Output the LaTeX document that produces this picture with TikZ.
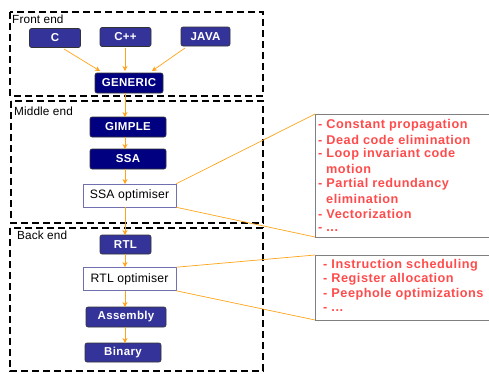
\documentclass[tikz,border=0pt]{standalone}
\usepackage{fontspec}
\setmainfont{Liberation Sans}
\usetikzlibrary{arrows.meta}
\definecolor{lblue}{HTML}{333399}
\definecolor{navy}{HTML}{000080}
\definecolor{arr}{HTML}{FFA31A}
\definecolor{redtxt}{HTML}{FF4B4B}
\definecolor{optb}{HTML}{7070B0}
\tikzset{
  blk/.style={draw=black!80, line width=0.6pt, rounded corners=2pt, text=white, font=\bfseries\fontsize{11.5}{13}\selectfont\addfontfeature{LetterSpace=3}, inner sep=0pt, minimum height=19pt},
  lb/.style={blk, fill=lblue},
  nb/.style={blk, fill=navy},
  opt/.style={draw=optb, fill=white, line width=0.6pt, inner sep=0pt, minimum width=93pt, minimum height=23pt, font=\fontsize{12.2}{14}\selectfont\addfontfeature{LetterSpace=1.5}},
  region/.style={draw=black, line width=1.6pt, dash pattern=on 7pt off 4pt},
  rlbl/.style={anchor=west, inner sep=0pt, font=\fontsize{11.8}{13}\selectfont\addfontfeature{LetterSpace=1}},
  flow/.style={draw=arr, line width=0.7pt, -{Stealth[length=5pt,width=5pt]}},
  link/.style={draw=arr, line width=0.7pt},
  listbox/.style={draw=gray, line width=0.8pt},
  item/.style={anchor=west, inner sep=0pt, text=redtxt, font=\bfseries\fontsize{12.7}{14}\selectfont\addfontfeature{LetterSpace=4}}
}
\begin{document}
\begin{tikzpicture}[x=1pt,y=-1pt]
\useasboundingbox (0,0) rectangle (489,373);
% regions
\draw[region] (10,12) rectangle (263,96);
\draw[region] (11,101) rectangle (263,223);
\draw[region] (10,228) rectangle (263,371);
\node[rlbl] (fe) at (12,19) {Front end};
\node[rlbl] (me) at (14,111) {Middle end};
\node[rlbl] (be) at (17,235) {Back end};
% nodes
\node[lb, minimum width=51pt] (c) at (55,38) {C};
\node[lb, minimum width=51pt] (cpp) at (125.5,37) {C++};
\node[lb, minimum width=49pt] (java) at (205.5,36.5) {JAVA};
\node[nb, minimum width=68pt, minimum height=20pt] (gen) at (129,83) {GENERIC};
\node[nb, minimum width=76pt, minimum height=20pt] (gimple) at (128,127) {GIMPLE};
\node[nb, minimum width=76pt, minimum height=20pt] (ssa) at (128,159) {SSA};
\node[opt] (ssaopt) at (129.5,195.5) {SSA optimiser};
\node[lb, minimum width=51pt] (rtl) at (125.5,244.5) {RTL};
\node[opt] (rtlopt) at (129.5,279) {RTL optimiser};
\node[lb, minimum width=80pt, minimum height=20pt] (asm) at (126,317) {Assembly};
\node[lb, minimum width=76pt] (bin) at (123,352.5) {Binary};
% flow arrows
\coordinate (genT) at (125,71);
\draw[flow] (64,49) -- (100,71);
\draw[flow] (125,48) -- (genT);
\draw[flow] (185,48) -- (152,71);
\draw[flow] (125,93) -- (125,117);
\draw[flow] (125,137) -- (125,149);
\draw[flow] (125,169) -- (125,184);
\draw[flow] (125,207) -- (125,235);
\draw[flow] (125,254) -- (125,267);
\draw[flow] (125,291) -- (125,307);
\draw[flow] (125,327) -- (125,343);
% list boxes
\coordinate (b1tl) at (315,114);
\coordinate (b1bl) at (315,237);
\coordinate (b2tl) at (315,255);
\coordinate (b2bl) at (315,320);
\draw[listbox] (492,114) -- (b1tl) -- (b1bl) -- (492,237);
\draw[listbox] (492,255) -- (b2tl) -- (b2bl) -- (492,320);
\draw[link] (ssaopt.north east) -- (b1tl);
\draw[link] (ssaopt.south east) -- (b1bl);
\draw[link] (rtlopt.north east) -- (b2tl);
\draw[link] (rtlopt.south east) -- (b2bl);
% list text
\node[item] (i1) at (318,125) {- Constant propagation};
\node[item] (i2) at (318,139.5) {- Dead code elimination};
\node[item] (i3) at (318,154.3) {- Loop invariant code};
\node[item] (i3b) at (326,169) {motion};
\node[item] (i4) at (318,184.3) {- Partial redundancy};
\node[item] (i4b) at (326,199.3) {elimination};
\node[item] (i5) at (318,214) {- Vectorization};
\node[item] (i6) at (318,229) {- ...};
\node[item] (j1) at (323,265) {- Instruction scheduling};
\node[item] (j2) at (323,279.5) {- Register allocation};
\node[item] (j3) at (323,294.3) {- Peephole optimizations};
\node[item] (j4) at (323,309) {- ...};
\end{tikzpicture}
\end{document}
